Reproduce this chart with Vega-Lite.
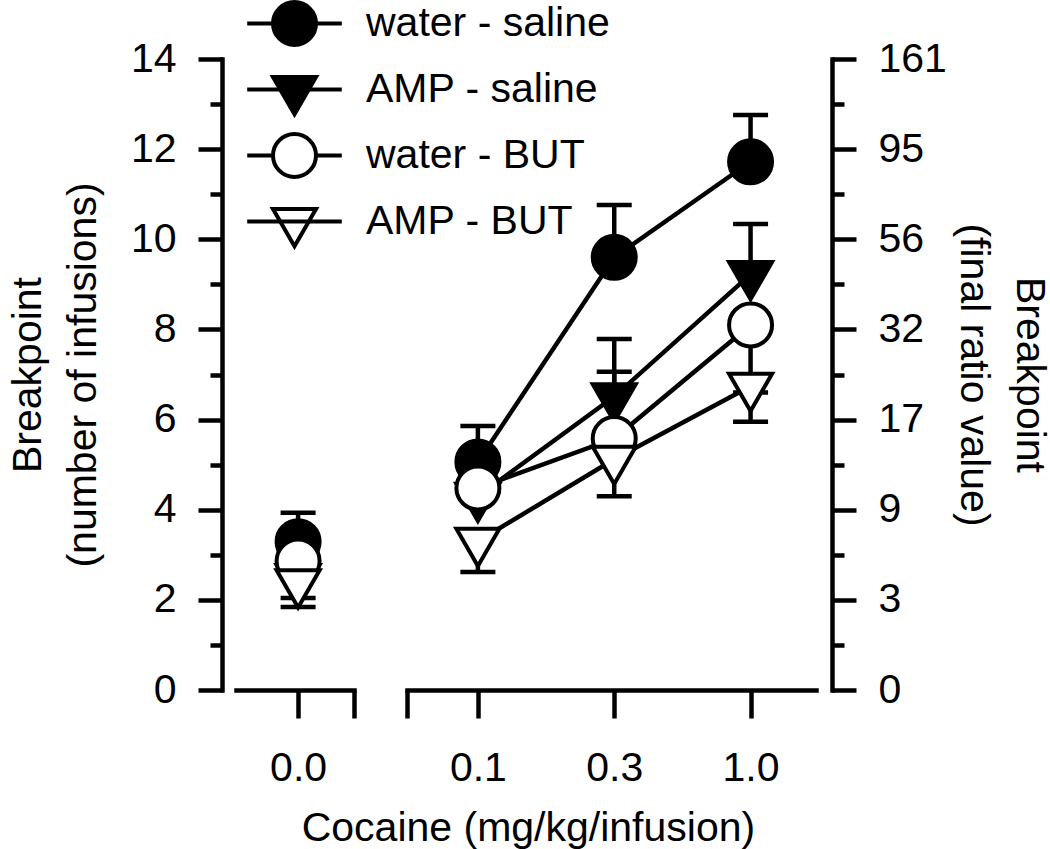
{
  "$schema": "https://vega.github.io/schema/vega-lite/v6.json",
  "background": "white",
  "padding": {"left": 7, "top": 0, "right": 0, "bottom": 0},
  "config": {
    "font": "Liberation Sans",
    "view": {"stroke": null},
    "axis": {
      "domainColor": "black", "domainWidth": 4.5, "domainCap": "square",
      "tickColor": "black", "tickWidth": 4.5,
      "labelColor": "black", "titleColor": "black",
      "labelFontSize": 41, "titleFontSize": 41, "titleFontWeight": "normal",
      "labelFont": "Liberation Sans", "titleFont": "Liberation Sans",
      "grid": false, "labelFlush": false, "labelOverlap": false
    }
  },
  "title": {
    "text": "Cocaine (mg/kg/infusion)", "orient": "bottom", "anchor": "middle",
    "fontSize": 41, "fontWeight": "normal", "font": "Liberation Sans", "color": "black", "offset": 21
  },
  "datasets": {
    "pts": [
      {"group": "water - saline", "dose": "0.0", "rank": 0, "mean": 3.29, "err": 3.93},
      {"group": "AMP - saline", "dose": "0.0", "rank": 0, "mean": 2.5, "err": 2.04},
      {"group": "water - BUT", "dose": "0.0", "rank": 0, "mean": 2.86, "err": 3.4},
      {"group": "AMP - BUT", "dose": "0.0", "rank": 0, "mean": 2.38, "err": 1.84},
      {"group": "water - saline", "dose": "0.1", "rank": 1, "mean": 5.06, "err": 5.86},
      {"group": "AMP - saline", "dose": "0.1", "rank": 1, "mean": 4.3, "err": 4.9},
      {"group": "water - BUT", "dose": "0.1", "rank": 1, "mean": 4.48, "err": 5.0},
      {"group": "AMP - BUT", "dose": "0.1", "rank": 1, "mean": 3.3, "err": 2.62},
      {"group": "water - saline", "dose": "0.3", "rank": 2, "mean": 9.6, "err": 10.76},
      {"group": "AMP - saline", "dose": "0.3", "rank": 2, "mean": 6.51, "err": 7.79},
      {"group": "water - BUT", "dose": "0.3", "rank": 2, "mean": 5.58, "err": 7.06},
      {"group": "AMP - BUT", "dose": "0.3", "rank": 2, "mean": 5.12, "err": 4.3},
      {"group": "water - saline", "dose": "1.0", "rank": 3, "mean": 11.72, "err": 12.76},
      {"group": "AMP - saline", "dose": "1.0", "rank": 3, "mean": 9.22, "err": 10.34},
      {"group": "water - BUT", "dose": "1.0", "rank": 3, "mean": 8.1, "err": 6.6},
      {"group": "AMP - BUT", "dose": "1.0", "rank": 3, "mean": 6.74, "err": 5.95}
    ]
  },
  "spacing": 47,
  "hconcat": [
    {
      "width": 118,
      "height": 631,
      "data": {"name": "pts"},
      "transform": [{"filter": "datum.rank === 0"}],
      "layer": [
        {
          "mark": {"type": "rule", "color": "black", "strokeWidth": 4.5},
          "encoding": {
            "x": {
              "field": "rank", "type": "quantitative",
              "scale": {"domain": [-1, 0.9], "nice": false, "zero": false},
              "axis": {
                "title": null, "values": [0, 0.9], "tickSize": 28, "labelPadding": 30,
                "labelExpr": "datum.value === 0 ? '0.0' : ''",
                "encode": {"ticks": {"update": {"y": {"signal": "datum.value > 0.5 ? -25 : 0"}}}}
              }
            },
            "y": {
              "field": "mean", "type": "quantitative",
              "scale": {"domain": [0, 14], "nice": false},
              "axis": {
                "orient": "left", "offset": 14,
                "values": [0, 1, 2, 3, 4, 5, 6, 7, 8, 9, 10, 11, 12, 13, 14],
                "labelExpr": "datum.value % 2 === 0 ? datum.label : ''",
                "tickSize": {"condition": {"test": "datum.value % 2 === 1", "value": 12}, "value": 24},
                "labelPadding": 22,
                "title": ["Breakpoint", "(number of infusions)"],
                "titleLineHeight": 55, "titlePadding": 26
              }
            },
            "y2": {"field": "err"}
          }
        },
        {
          "mark": {"type": "tick", "orient": "horizontal", "color": "black", "size": 35, "thickness": 4.5, "opacity": 1},
          "encoding": {
            "x": {"field": "rank", "type": "quantitative"},
            "y": {"field": "err", "type": "quantitative"}
          }
        },
        {
          "mark": {"type": "point", "size": 1849, "stroke": "black", "strokeWidth": 4, "opacity": 1, "fillOpacity": 1},
          "encoding": {
            "x": {"field": "rank", "type": "quantitative"},
            "y": {"field": "mean", "type": "quantitative"},
            "fill": {
              "field": "group", "type": "nominal",
              "scale": {"domain": ["water - saline", "AMP - saline", "water - BUT", "AMP - BUT"], "range": ["black", "black", "white", "white"]},
              "legend": {
                "orient": "none", "legendX": 35, "legendY": -59, "title": null, "padding": 0,
                "labelFontSize": 41, "labelFont": "Liberation Sans", "labelColor": "black", "labelLimit": 600,
                "labelOffset": 48, "rowPadding": 0, "symbolSize": 1849, "symbolStrokeWidth": 4, "symbolStrokeColor": "black"
              }
            },
            "shape": {
              "field": "group", "type": "nominal",
              "scale": {
                "domain": ["water - saline", "AMP - saline", "water - BUT", "AMP - BUT"],
                "range": [
                  "M0,-1.1L0,-1.1M0,1.16L0,1.16M-1,0A1,1,0,1,1,1,0A1,1,0,1,1,-1,0Z",
                  "M0,-1.1L0,-1.1M0,1.16L0,1.16M-1,-0.577L1,-0.577L0,1.155Z",
                  "M0,-1.1L0,-1.1M0,1.16L0,1.16M-1,0A1,1,0,1,1,1,0A1,1,0,1,1,-1,0Z",
                  "M0,-1.1L0,-1.1M0,1.16L0,1.16M-1,-0.577L1,-0.577L0,1.155Z"
                ]
              }
            }
          }
        }
      ]
    },
    {
      "width": 409,
      "height": 631,
      "data": {"name": "pts"},
      "transform": [{"filter": "datum.rank > 0"}],
      "layer": [
        {
          "mark": {"type": "line", "color": "black", "strokeWidth": 4.5},
          "encoding": {
            "x": {
              "field": "rank", "type": "quantitative",
              "scale": {"domain": [0.48, 3.48], "nice": false, "zero": false},
              "axis": {
                "title": null, "values": [0.48, 1, 2, 3], "tickSize": 28, "labelPadding": 30,
                "labelExpr": "datum.value === 1 ? '0.1' : datum.value === 2 ? '0.3' : datum.value === 3 ? '1.0' : ''",
                "encode": {"ticks": {"update": {"y": {"signal": "datum.value < 0.5 ? -25 : 0"}}}}
              }
            },
            "y": {
              "field": "mean", "type": "quantitative",
              "scale": {"domain": [0, 14], "nice": false},
              "axis": {
                "orient": "right", "offset": 16,
                "values": [0, 1, 2, 3, 4, 5, 6, 7, 8, 9, 10, 11, 12, 13, 14],
                "labelExpr": "datum.value % 2 === 0 ? ['0','3','9','17','32','56','95','161'][datum.value / 2] : ''",
                "tickSize": {"condition": {"test": "datum.value % 2 === 1", "value": 12}, "value": 24},
                "labelPadding": 22,
                "title": ["Breakpoint", "(final ratio value)"],
                "titleLineHeight": 56, "titlePadding": 5
              }
            },
            "detail": {"field": "group", "type": "nominal"}
          }
        },
        {
          "mark": {"type": "line", "color": "black", "strokeWidth": 4, "opacity": 0},
          "encoding": {
            "x": {"field": "rank", "type": "quantitative"},
            "y": {"field": "mean", "type": "quantitative"},
            "strokeDash": {
              "field": "group", "type": "nominal",
              "scale": {"domain": ["AMP - BUT", "water - BUT", "AMP - saline", "water - saline"], "range": [[1, 0], [25.8, 43], [1, 0], [25.8, 43]]},
              "legend": {
                "orient": "none", "legendX": 35, "legendY": -59, "title": null, "padding": 0,
                "values": ["water - saline", "AMP - saline", "water - BUT", "AMP - BUT"],
                "labelFontSize": 41, "labelFont": "Liberation Sans", "labelExpr": "''", "labelLimit": 600,
                "labelOffset": 48, "rowPadding": 0, "symbolSize": 1849, "symbolType": "M0,-1.1L0,-1.1M0,1.16L0,1.16M-2.2,0L2.2,0",
                "symbolStrokeWidth": 4, "symbolStrokeColor": "black", "symbolOpacity": 1
              }
            }
          }
        },
        {
          "mark": {"type": "rule", "color": "black", "strokeWidth": 4.5},
          "encoding": {
            "x": {"field": "rank", "type": "quantitative"},
            "y": {"field": "mean", "type": "quantitative"},
            "y2": {"field": "err"}
          }
        },
        {
          "mark": {"type": "tick", "orient": "horizontal", "color": "black", "size": 35, "thickness": 4.5, "opacity": 1},
          "encoding": {
            "x": {"field": "rank", "type": "quantitative"},
            "y": {"field": "err", "type": "quantitative"}
          }
        },
        {
          "mark": {"type": "point", "size": 1849, "stroke": "black", "strokeWidth": 4, "opacity": 1, "fillOpacity": 1},
          "encoding": {
            "x": {"field": "rank", "type": "quantitative"},
            "y": {"field": "mean", "type": "quantitative"},
            "fill": {
              "field": "group", "type": "nominal",
              "scale": {"domain": ["water - saline", "AMP - saline", "water - BUT", "AMP - BUT"], "range": ["black", "black", "white", "white"]}
            },
            "shape": {
              "field": "group", "type": "nominal",
              "scale": {
                "domain": ["water - saline", "AMP - saline", "water - BUT", "AMP - BUT"],
                "range": [
                  "M0,-1.1L0,-1.1M0,1.16L0,1.16M-1,0A1,1,0,1,1,1,0A1,1,0,1,1,-1,0Z",
                  "M0,-1.1L0,-1.1M0,1.16L0,1.16M-1,-0.577L1,-0.577L0,1.155Z",
                  "M0,-1.1L0,-1.1M0,1.16L0,1.16M-1,0A1,1,0,1,1,1,0A1,1,0,1,1,-1,0Z",
                  "M0,-1.1L0,-1.1M0,1.16L0,1.16M-1,-0.577L1,-0.577L0,1.155Z"
                ]
              }
            }
          }
        }
      ]
    }
  ]
}
